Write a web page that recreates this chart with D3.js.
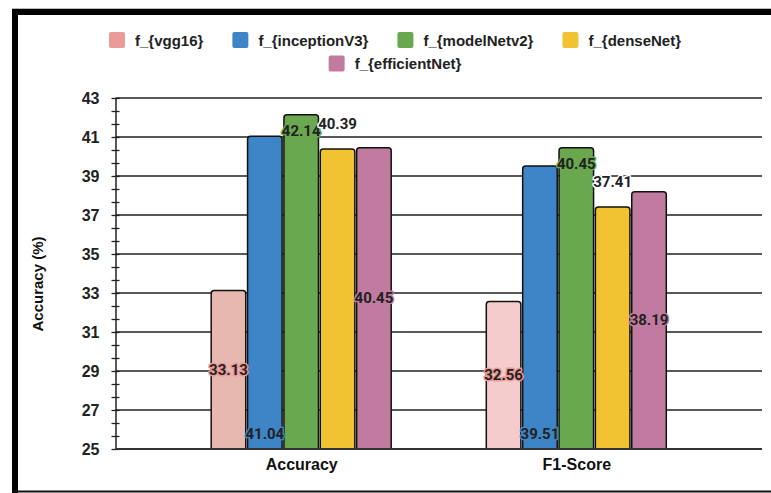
<!DOCTYPE html>
<html>
<head>
<meta charset="utf-8">
<script src="https://cdn.jsdelivr.net/npm/d3@7"></script>
<style>
  body { margin: 0; background: #fff; }
  svg { display: block; }
  .lbl { font-family: "Liberation Sans", Arial, sans-serif; font-weight: bold; }
  .val { font-family: Roboto, "Liberation Sans", sans-serif; font-weight: 700; }
</style>
</head>
<body>
<svg id="chart" width="771" height="493"></svg>
<script>
// ---- data ----
const categories = ["Accuracy", "F1-Score"];
const seriesNames = ["f_{vgg16}", "f_{inceptionV3}", "f_{modelNetv2}", "f_{denseNet}", "f_{efficientNet}"];
const vgg16 = [33.13, 32.56];
const inceptionV3 = [41.04, 39.51];
const modelNetv2 = [42.14, 40.45];
const denseNet = [40.39, 37.41];
const efficientNet = [40.45, 38.19];
const yTickLabels = [25, 27, 29, 31, 33, 35, 37, 39, 41, 43];
const seriesValues = [vgg16, inceptionV3, modelNetv2, denseNet, efficientNet];

// ---- styling ----
const seriesColors = ["#ea9999", "#3d85c6", "#6aa84f", "#f1c232", "#c27ba0"];
// the first series is shaded per category in the bars
const firstSeriesBarColors = ["#e6b8af", "#f4cccc"];
const labelModes = ["middle", "insideBottom", "insideTop", "top", "middle"];

const svg = d3.select("#chart");
const W = 771, H = 493;
const plot = { left: 115.5, right: 762, top: 98, bottom: 449 };

// frame
svg.append("rect").attr("x", 0).attr("y", 0).attr("width", W).attr("height", H).attr("fill", "#fff");
svg.append("line").attr("x1", 12).attr("x2", W).attr("y1", 8.5).attr("y2", 8.5).attr("stroke", "#bbb").attr("stroke-width", 1);
svg.append("rect").attr("x", 12).attr("y", 9).attr("width", W - 12).attr("height", 6).attr("fill", "#000");
svg.append("rect").attr("x", 12).attr("y", 9).attr("width", 6).attr("height", H - 9).attr("fill", "#000");
svg.append("line").attr("x1", 12).attr("x2", W).attr("y1", 491.5).attr("y2", 491.5).attr("stroke", "#111").attr("stroke-width", 2);

// scales
const y = d3.scaleLinear().domain([25, 43]).range([plot.bottom, plot.top]);
const x0 = d3.scalePoint().domain(categories).range([plot.left, plot.right]).padding(0.675);
const x1 = d3.scaleBand().domain(d3.range(seriesNames.length)).range([-90, 90]).paddingInner(0.05);

// gridlines
const g = svg.append("g");
g.selectAll("line.grid").data(yTickLabels.filter(d => d !== 25)).join("line")
  .attr("class", "grid")
  .attr("x1", plot.left).attr("x2", plot.right)
  .attr("y1", d => y(d)).attr("y2", d => y(d))
  .attr("stroke", "#222").attr("stroke-width", 1.5);

// y axis: minor ticks crossing the axis line
const minorTicks = d3.range(0, 28).map(i => 25 + i * 2 / 3).filter(v => v <= 43.001);
const yAxisMinor = svg.append("g").attr("transform", `translate(${plot.left},0)`)
  .call(d3.axisLeft(y).tickValues(minorTicks).tickFormat("").tickSizeInner(4).tickSizeOuter(0));
yAxisMinor.select(".domain").attr("stroke", "#222").attr("stroke-width", 1.5);
yAxisMinor.selectAll(".tick line").attr("x1", 4).attr("stroke", "#222").attr("stroke-width", 1.3);

const yAxisLabels = svg.append("g").attr("transform", `translate(${plot.left},0)`)
  .call(d3.axisLeft(y).tickValues(yTickLabels).tickFormat(d3.format("d")).tickSize(0).tickPadding(16));
yAxisLabels.select(".domain").remove();
yAxisLabels.selectAll("text").attr("class", "lbl").attr("font-size", 16).attr("fill", "#222");

// axis title
svg.append("text").attr("class", "lbl")
  .attr("transform", "translate(43,284) rotate(-90)")
  .attr("text-anchor", "middle").attr("font-size", 15).attr("fill", "#111")
  .text("Accuracy (%)");

// bars
function barPath(x, yTop, w, yBot, r) {
  return `M${x},${yBot} V${yTop + r} Q${x},${yTop} ${x + r},${yTop} H${x + w - r} Q${x + w},${yTop} ${x + w},${yTop + r} V${yBot} Z`;
}
const barData = [];
categories.forEach((c, ci) => {
  seriesValues.forEach((vals, si) => {
    barData.push({ c, ci, si, v: vals[ci] });
  });
});
const barsG = svg.append("g");
barsG.selectAll("path").data(barData).join("path")
  .attr("d", d => barPath(x0(d.c) + x1(d.si), y(d.v), x1.bandwidth(), y(25), 3))
  .attr("fill", d => d.si === 0 ? firstSeriesBarColors[d.ci] : seriesColors[d.si])
  .attr("stroke", "#111").attr("stroke-width", 1.5);

// x axis baseline and category labels
svg.append("line").attr("x1", plot.left).attr("x2", plot.right)
  .attr("y1", y(25)).attr("y2", y(25)).attr("stroke", "#333").attr("stroke-width", 2);
const xAxis = svg.append("g").attr("transform", `translate(0,${y(25)})`)
  .call(d3.axisBottom(x0).tickSize(0).tickPadding(10));
xAxis.select(".domain").remove();
xAxis.selectAll("text").attr("class", "lbl").attr("font-size", 16).attr("fill", "#111");

// value labels
function labelY(d) {
  const mode = labelModes[d.si];
  if (mode === "middle") return (y(d.v) + y(25)) / 2;
  if (mode === "insideBottom") return y(25) - 15;
  if (mode === "insideTop") return y(d.v) + 16;
  return y(d.v) - 25;
}
svg.append("g").selectAll("text").data(barData).join("text")
  .attr("class", "val")
  .attr("x", d => x0(d.c) + x1(d.si) + x1.bandwidth() / 2)
  .attr("y", d => labelY(d))
  .attr("text-anchor", "middle").attr("dominant-baseline", "central")
  .attr("font-size", 15).attr("fill", "#222")
  .attr("stroke", d => labelModes[d.si] === "top" ? "#fff" : seriesColors[d.si])
  .attr("stroke-width", 3).attr("paint-order", "stroke").attr("stroke-linejoin", "round")
  .text(d => d.v.toFixed(2));

// legend, two centred rows
const legendRows = [[0, 1, 2, 3], [4]];
const legendG = svg.append("g");
const itemGap = 29;
legendRows.forEach((row, ri) => {
  const rowG = legendG.append("g");
  let cx = 0;
  row.forEach(si => {
    const item = rowG.append("g").attr("transform", `translate(${cx},0)`);
    item.append("rect").attr("x", 0).attr("y", -8).attr("width", 16).attr("height", 16).attr("rx", 2)
      .attr("fill", seriesColors[si]);
    const t = item.append("text").attr("class", "lbl").attr("x", 26).attr("y", 0)
      .attr("dominant-baseline", "central").attr("font-size", 15).attr("fill", "#222")
      .text(seriesNames[si]);
    cx += 26 + t.node().getComputedTextLength() + itemGap;
  });
  const rowW = cx - itemGap;
  rowG.attr("transform", `translate(${395 - rowW / 2},${40 + ri * 23.5})`);
});
</script>
</body>
</html>
